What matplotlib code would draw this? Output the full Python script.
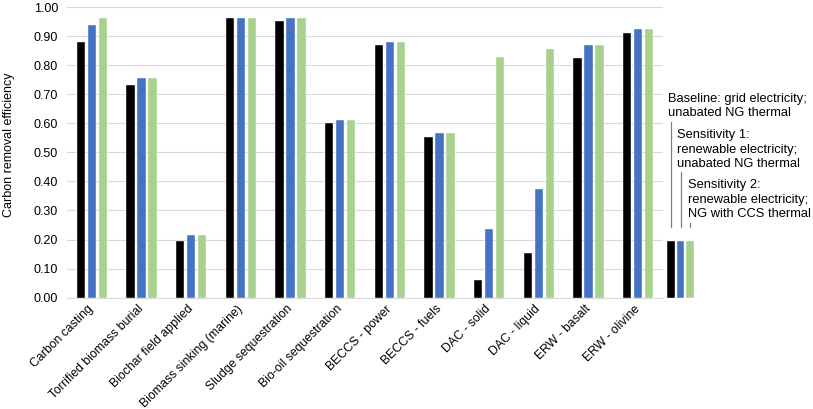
import matplotlib
matplotlib.use("Agg")
import matplotlib.pyplot as plt
import numpy as np

plt.rcParams['font.family'] = ['Liberation Sans', 'DejaVu Sans']

categories = ["Carbon casting", "Torrified biomass burial", "Biochar field applied",
              "Biomass sinking (marine)", "Sludge sequestration", "Bio-oil sequestration",
              "BECCS - power", "BECCS - fuels", "DAC - solid", "DAC - liquid",
              "ERW - basalt", "ERW - olivine"]
baseline = [0.878, 0.733, 0.195, 0.962, 0.951, 0.600, 0.871, 0.552, 0.060, 0.154, 0.823, 0.912]
sens1 = [0.937, 0.755, 0.215, 0.962, 0.963, 0.613, 0.878, 0.567, 0.237, 0.374, 0.868, 0.923]
sens2 = [0.963, 0.755, 0.215, 0.962, 0.963, 0.613, 0.878, 0.567, 0.828, 0.854, 0.868, 0.923]
legend_value = 0.195
series_labels = ["Baseline: grid electricity;\nunabated NG thermal",
                 "Sensitivity 1:\nrenewable electricity;\nunabated NG thermal",
                 "Sensitivity 2:\nrenewable electricity;\nNG with CCS thermal"]
colors = ["#000000", "#4472C4", "#A9D18E"]
yticks = [0.0, 0.1, 0.2, 0.3, 0.4, 0.5, 0.6, 0.7, 0.8, 0.9, 1.0]

W, H = 813, 409
fig = plt.figure(figsize=(W / 100, H / 100), dpi=100)
left, right, top, bottom = 67, 663, 7, 297.7
ax = fig.add_axes([left / W, 1 - bottom / H, (right - left) / W, (bottom - top) / H])

x = np.arange(len(categories))
step = 0.221
bw = 0.171
for i, (vals, c) in enumerate(zip([baseline, sens1, sens2], colors)):
    ax.bar(x + (i - 1) * step, vals, width=bw, color=c, edgecolor='white', linewidth=0.3, zorder=3)

ax.set_xlim(-0.5, len(categories) - 0.5)
ax.set_ylim(0, 1.0)
ax.set_yticks(yticks)
ax.set_yticklabels([f"{v:.2f}" for v in yticks], fontsize=9)
ax.set_xticks(x)
ax.set_xticklabels(categories, rotation=45, ha='right', va='center', rotation_mode='anchor', fontsize=8.8)
ax.tick_params(axis='both', length=0)
ax.tick_params(axis='y', pad=6.5)
ax.tick_params(axis='x', pad=7)
ax.grid(axis='y', color='#D9D9D9', linewidth=0.8, zorder=0)
for s in ['top', 'right', 'left']:
    ax.spines[s].set_visible(False)
ax.spines['bottom'].set_color('#D9D9D9')
ax.spines['bottom'].set_linewidth(0.8)
ax.set_ylabel("Carbon removal efficiency", fontsize=9)
ax.yaxis.set_label_coords(-0.087, 0.525)

# legend bars
lx0, lx1 = 666, 695
axl = fig.add_axes([lx0 / W, 1 - bottom / H, (lx1 - lx0) / W, (bottom - top) / H])
axl.set_xlim(-0.5, 2.5)
axl.set_ylim(0, 1.0)
axl.axis('off')
for i, c in enumerate(colors):
    axl.bar(i, legend_value, width=0.78, color=c, edgecolor='white', linewidth=0.3)

text_pos = [(-0.29, 0.705), (0.64, 0.58), (1.74, 0.408)]
line_tops = [0.604, 0.432, 0.256]
for i, (lab, (tx, ty)) in enumerate(zip(series_labels, text_pos)):
    axl.text(tx, ty, lab, ha='left', va='top', fontsize=9.3, linespacing=1.28, clip_on=False)
    axl.plot([i, i], [0.244, line_tops[i]], color='#808080', linewidth=0.9, clip_on=False)

fig.savefig("out.png", dpi=100)
